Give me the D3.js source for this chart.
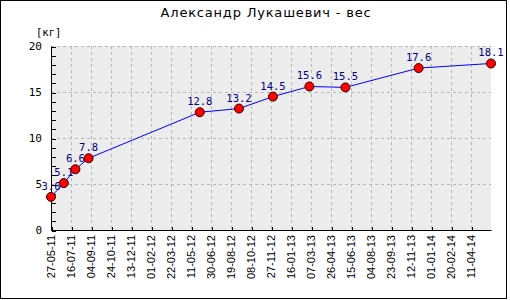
<!DOCTYPE html>
<html>
<head>
<meta charset="utf-8">
<script src="https://cdn.jsdelivr.net/npm/d3@7"></script>
<style>
  body { margin: 0; background: #fff; }
  svg { display: block; }
</style>
</head>
<body>
<svg width="510" height="300"></svg>
<script>
// data
var title = "Александр Лукашевич - вес";
var unit = "[кг]";
var dates = ["27-05-11", "28-06-11", "27-07-11", "29-08-11", "02-06-12", "08-09-12",
             "02-12-12", "03-03-13", "01-06-13", "01-12-13", "31-05-14"];
var weights = [3.6, 5.1, 6.6, 7.8, 12.8, 13.2, 14.5, 15.6, 15.5, 17.6, 18.1];
var xTickLabels = ["27-05-11", "16-07-11", "04-09-11", "24-10-11", "13-12-11", "01-02-12",
                   "22-03-12", "11-05-12", "30-06-12", "19-08-12", "08-10-12", "27-11-12",
                   "16-01-13", "07-03-13", "26-04-13", "15-06-13", "04-08-13", "23-09-13",
                   "12-11-13", "01-01-14", "20-02-14", "11-04-14"];
var yMajor = [0, 5, 10, 15, 20];

var parse = d3.utcParse("%d-%m-%y");
var points = dates.map(function (d, i) { return {date: parse(d), v: weights[i]}; });

var svg = d3.select("svg");
var pLeft = 51, pRight = 491, pTop = 46, pBottom = 230;

var x = d3.scaleUtc()
    .domain([points[0].date, points[points.length - 1].date])
    .range([pLeft, pRight]);
var y = d3.scaleLinear().domain([0, 20]).range([pBottom, pTop]);

// outer frame
svg.append("rect")
    .attr("x", 0.5).attr("y", 0.5)
    .attr("width", 506).attr("height", 298)
    .attr("fill", "#fff").attr("stroke", "#000");

// plot background
svg.append("rect")
    .attr("x", pLeft).attr("y", pTop)
    .attr("width", pRight - pLeft).attr("height", pBottom - pTop)
    .attr("fill", "#ececec");

var tickDates = xTickLabels.map(parse);

// grid
var grid = svg.append("g")
    .attr("stroke", "#b8b8b8")
    .attr("stroke-dasharray", "3,3")
    .attr("shape-rendering", "crispEdges");
grid.selectAll("line.v")
    .data(tickDates.slice(1))
    .enter().append("line")
    .attr("x1", function (d) { return Math.round(x(d)) + 0.5; })
    .attr("x2", function (d) { return Math.round(x(d)) + 0.5; })
    .attr("y1", pTop).attr("y2", pBottom);
grid.selectAll("line.h")
    .data(yMajor.slice(1))
    .enter().append("line")
    .attr("x1", pLeft).attr("x2", pRight)
    .attr("y1", function (d) { return Math.round(y(d)) + 0.5; })
    .attr("y2", function (d) { return Math.round(y(d)) + 0.5; });

// y axis
var yAxis = svg.append("g")
    .attr("transform", "translate(" + (pLeft + 0.5) + ",0.5)")
    .call(d3.axisRight(y).tickValues(d3.range(0, 21)).tickSize(4).tickFormat(""));
yAxis.select(".domain").attr("d", "M0," + pTop + "V" + pBottom);
yAxis.selectAll("line").attr("shape-rendering", "crispEdges");

svg.append("g").selectAll("text")
    .data(yMajor)
    .enter().append("text")
    .attr("x", 42)
    .attr("y", function (d) { return y(d); })
    .attr("dy", "0.35em")
    .attr("text-anchor", "end")
    .style("font", "11px 'DejaVu Sans Mono'")
    .text(function (d) { return d; });

svg.append("text")
    .attr("x", 36).attr("y", 36)
    .style("font", "10.5px 'DejaVu Sans Mono'")
    .text(unit);

// x axis
var xAxis = svg.append("g")
    .attr("transform", "translate(0.5," + (pBottom + 0.5) + ")")
    .call(d3.axisTop(x).tickValues(tickDates).tickSize(4).tickFormat(""));
xAxis.select(".domain").attr("d", "M" + (pLeft - 0.5) + ",0H" + pRight);
xAxis.selectAll("line").attr("shape-rendering", "crispEdges");

svg.append("g").selectAll("text")
    .data(tickDates)
    .enter().append("text")
    .attr("transform", function (d) {
        return "translate(" + (x(d) + 0.5) + "," + (pBottom + 5) + ") rotate(-90)";
    })
    .attr("dy", "0.35em")
    .attr("text-anchor", "end")
    .style("font", "11px 'Liberation Sans'")
    .text(function (d, i) { return xTickLabels[i]; });

// line
svg.append("path")
    .datum(points)
    .attr("fill", "none")
    .attr("stroke", "#0000ff")
    .attr("stroke-width", 1)
    .attr("d", d3.line()
        .x(function (d) { return x(d.date); })
        .y(function (d) { return y(d.v); }));

// value labels
svg.append("g").selectAll("text")
    .data(points)
    .enter().append("text")
    .attr("x", function (d) { return x(d.date); })
    .attr("y", function (d) { return y(d.v) - 7; })
    .attr("text-anchor", "middle")
    .attr("fill", "#000080")
    .style("font", "10.5px 'DejaVu Sans Mono'")
    .text(function (d) { return d.v.toFixed(1); });

// markers
svg.append("g").selectAll("circle")
    .data(points)
    .enter().append("circle")
    .attr("cx", function (d) { return x(d.date); })
    .attr("cy", function (d) { return y(d.v); })
    .attr("r", 4.5)
    .attr("fill", "#ff0000")
    .attr("stroke", "#300000")
    .attr("stroke-width", 1);

// title
svg.append("text")
    .attr("x", 266).attr("y", 17)
    .attr("text-anchor", "middle")
    .style("font", "13px 'DejaVu Sans'")
    .style("letter-spacing", "0.8px")
    .text(title);
</script>
</body>
</html>
